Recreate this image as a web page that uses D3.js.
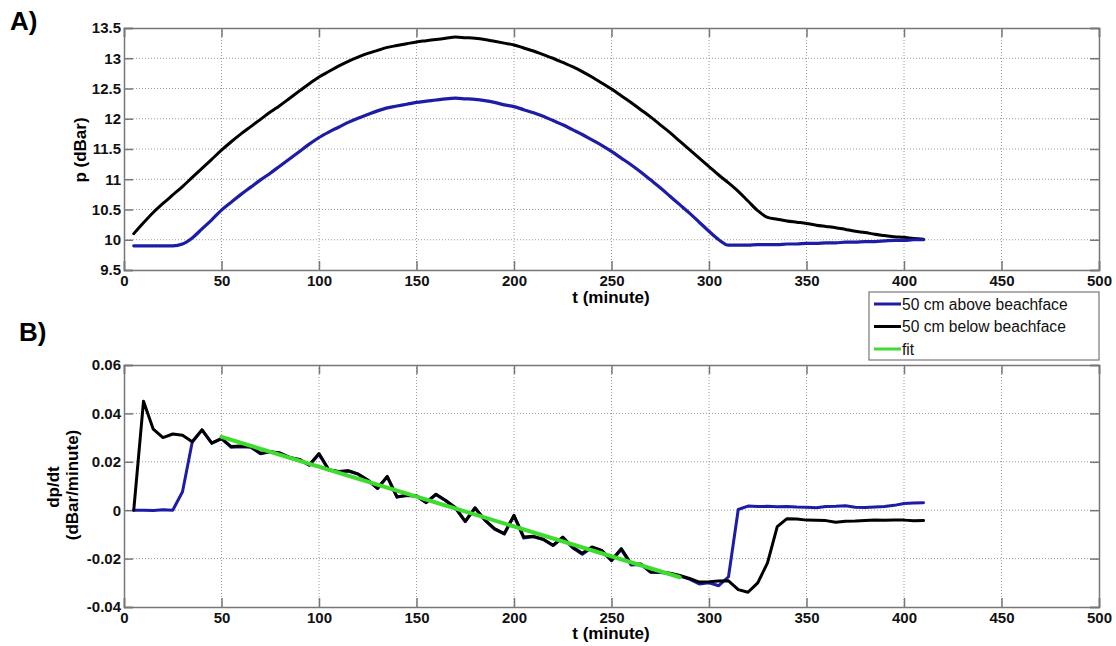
<!DOCTYPE html>
<html>
<head>
<meta charset="utf-8">
<script src="https://d3js.org/d3.v7.min.js"></script>
<style>
  body { margin: 0; background: #fff; }
  text { font-family: "Liberation Sans", Arial, sans-serif; }
</style>
</head>
<body>
<svg id="chart" width="1116" height="646"></svg>
<script>
// time grid (minutes), shared by both panels
var tMin = d3.range(5, 411, 5);

// panel A: pressure (dBar)
var pAbove = [9.90, 9.90, 9.90, 9.90, 9.90, 9.93, 10.03, 10.18, 10.33, 10.49,
  10.62, 10.75, 10.87, 10.99, 11.10, 11.22, 11.34, 11.46, 11.58, 11.69,
  11.78, 11.86, 11.94, 12.01, 12.07, 12.13, 12.18, 12.21, 12.24, 12.27,
  12.29, 12.31, 12.33, 12.34, 12.33, 12.32, 12.30, 12.27, 12.23, 12.20,
  12.15, 12.10, 12.04, 11.97, 11.90, 11.82, 11.74, 11.65, 11.56, 11.46,
  11.35, 11.24, 11.12, 10.99, 10.86, 10.72, 10.58, 10.44, 10.29, 10.14,
  10.00, 9.91, 9.91, 9.91, 9.92, 9.92, 9.92, 9.93, 9.93, 9.94,
  9.94, 9.95, 9.95, 9.96, 9.96, 9.97, 9.97, 9.98, 9.99, 9.99,
  10.00, 10.00];
var pBelow = [10.10, 10.28, 10.45, 10.60, 10.74, 10.88, 11.03, 11.18, 11.33, 11.48,
  11.62, 11.75, 11.87, 11.99, 12.11, 12.22, 12.34, 12.46, 12.58, 12.69,
  12.78, 12.87, 12.95, 13.02, 13.08, 13.13, 13.18, 13.21, 13.24, 13.27,
  13.29, 13.31, 13.33, 13.35, 13.34, 13.33, 13.31, 13.28, 13.25, 13.22,
  13.17, 13.12, 13.06, 13.00, 12.93, 12.86, 12.78, 12.69, 12.59, 12.49,
  12.38, 12.27, 12.15, 12.03, 11.90, 11.77, 11.63, 11.49, 11.35, 11.21,
  11.07, 10.94, 10.80, 10.64, 10.48, 10.37, 10.34, 10.31, 10.29, 10.27,
  10.24, 10.22, 10.20, 10.17, 10.14, 10.12, 10.09, 10.07, 10.05, 10.04,
  10.02, 10.01];

// panel B: dp/dt (dBar/minute)
var rAbove = [0, 0, -0.0001, 0.0002, 0, 0.0076, 0.0282, 0.0332, 0.0277, 0.0296,
  0.0260, 0.0262, 0.0260, 0.0233, 0.0241, 0.0236, 0.0217, 0.0209, 0.0186, 0.0231,
  0.0166, 0.0159, 0.0162, 0.0149, 0.0124, 0.0090, 0.0138, 0.0054, 0.0061, 0.0058,
  0.0031, 0.0064, 0.0039, 0.0009, -0.0047, 0.0009, -0.0041, -0.0078, -0.0098, -0.0023,
  -0.0115, -0.0110, -0.0121, -0.0146, -0.0113, -0.0155, -0.0182, -0.0154, -0.0168, -0.0209,
  -0.0162, -0.0226, -0.0224, -0.0256, -0.0257, -0.0262, -0.0272, -0.0285, -0.0305, -0.0300,
  -0.0312, -0.0275, 0.0003, 0.0017, 0.0015, 0.0016, 0.0014, 0.0015, 0.0013, 0.0012,
  0.0010, 0.0015, 0.0016, 0.0018, 0.0012, 0.0011, 0.0013, 0.0015, 0.0020, 0.0028,
  0.0030, 0.0031];
var rBelow = [0, 0.0450, 0.0335, 0.0300, 0.0315, 0.0310, 0.0283, 0.0332, 0.0277, 0.0296,
  0.0263, 0.0265, 0.0262, 0.0235, 0.0242, 0.0236, 0.0218, 0.0210, 0.0187, 0.0234,
  0.0167, 0.0160, 0.0163, 0.0150, 0.0125, 0.0090, 0.0140, 0.0055, 0.0062, 0.0060,
  0.0032, 0.0066, 0.0040, 0.0010, -0.0046, 0.0010, -0.0040, -0.0076, -0.0097, -0.0021,
  -0.0111, -0.0108, -0.0120, -0.0145, -0.0111, -0.0152, -0.0178, -0.0152, -0.0166, -0.0207,
  -0.0159, -0.0221, -0.0222, -0.0255, -0.0255, -0.0260, -0.0270, -0.0282, -0.0297, -0.0296,
  -0.0293, -0.0292, -0.0328, -0.0339, -0.0300, -0.0218, -0.0068, -0.0035, -0.0036, -0.0041,
  -0.0042, -0.0043, -0.0050, -0.0046, -0.0045, -0.0043, -0.0041, -0.0042, -0.0040, -0.0041,
  -0.0044, -0.0043];

// linear fit (end points)
var fitT = [50, 285];
var fitR = [0.0303, -0.0277];

var xTicks = [0, 50, 100, 150, 200, 250, 300, 350, 400, 450, 500];
var pTicks = [9.5, 10, 10.5, 11, 11.5, 12, 12.5, 13, 13.5];
var rTicks = [-0.04, -0.02, 0, 0.02, 0.04, 0.06];
var legendNames = ["50 cm above beachface", "50 cm below beachface", "fit"];

var blue = "#1c1ca6", black = "#000", green = "#3ddc2e";

var svg = d3.select("#chart");

function panel(yDomain, yRange, yTicks, yFmt) {
  var x = d3.scaleLinear().domain([0, 500]).range([124, 1099]);
  var y = d3.scaleLinear().domain(yDomain).range(yRange);
  var g = svg.append("g");
  var top = yRange[1], bot = yRange[0];

  // dotted grid
  g.selectAll(".gx").data(xTicks.slice(1, -1)).enter().append("line")
    .attr("x1", d => x(d)).attr("x2", d => x(d)).attr("y1", top).attr("y2", bot)
    .attr("stroke", "#9a9a9a").attr("stroke-width", 1).attr("stroke-dasharray", "1,2");
  g.selectAll(".gy").data(yTicks.slice(1, -1)).enter().append("line")
    .attr("x1", 124).attr("x2", 1099).attr("y1", d => y(d)).attr("y2", d => y(d))
    .attr("stroke", "#9a9a9a").attr("stroke-width", 1).attr("stroke-dasharray", "1,2");

  // axes with inward ticks (box style)
  var ax = [
    [d3.axisBottom(x).tickValues(xTicks).tickSize(-9).tickPadding(5), "translate(0," + bot + ")"],
    [d3.axisTop(x).tickValues(xTicks).tickSize(-9).tickFormat(""), "translate(0," + top + ")"],
    [d3.axisLeft(y).tickValues(yTicks).tickSize(-9).tickPadding(3).tickFormat(yFmt), "translate(124,0)"],
    [d3.axisRight(y).tickValues(yTicks).tickSize(-9).tickFormat(""), "translate(1099,0)"]
  ];
  ax.forEach(function(a) {
    var s = g.append("g").attr("transform", a[1]).call(a[0]);
    s.select(".domain").attr("stroke", "#777").attr("stroke-width", 1.5);
    s.selectAll(".tick line").attr("stroke", "#777").attr("stroke-width", 1.5);
    s.selectAll(".tick text").attr("font-size", 15).attr("font-weight", "bold")
      .attr("fill", "#111").attr("font-family", "Liberation Sans, Arial, sans-serif");
  });
  return { x: x, y: y, g: g };
}

function drawLine(p, xs, ys, color, w, curve) {
  var line = d3.line().curve(curve || d3.curveLinear)
    .x(d => p.x(d[0])).y(d => p.y(d[1]));
  p.g.append("path").datum(d3.zip(xs, ys)).attr("d", line)
    .attr("fill", "none").attr("stroke", color).attr("stroke-width", w)
    .attr("stroke-linejoin", "round").attr("stroke-linecap", "round");
}

// Panel A
var A = panel([9.5, 13.5], [270, 28], pTicks, d3.format(""));
drawLine(A, tMin, pBelow, black, 3, d3.curveMonotoneX);
drawLine(A, tMin, pAbove, blue, 3.2, d3.curveMonotoneX);

// Panel B
var B = panel([-0.04, 0.06], [607, 365], rTicks,
  d => d === 0 ? "0" : d3.format(".2f")(d).replace("\u2212", "-"));
drawLine(B, tMin, rAbove, blue, 3);
drawLine(B, tMin, rBelow, black, 3);
drawLine(B, fitT, fitR, green, 4);

// axis labels
[303, 639].forEach(function(yy) {
  svg.append("text").attr("x", 611).attr("y", yy).attr("text-anchor", "middle")
    .attr("font-size", 17).attr("font-weight", "bold").text("t (minute)");
});
svg.append("text").attr("transform", "translate(86,150) rotate(-90)")
  .attr("text-anchor", "middle").attr("font-size", 17).attr("font-weight", "bold").text("p (dBar)");
svg.append("text").attr("transform", "translate(59,487) rotate(-90)")
  .attr("text-anchor", "middle").attr("font-size", 17).attr("font-weight", "bold").text("dp/dt");
svg.append("text").attr("transform", "translate(78,485) rotate(-90)")
  .attr("text-anchor", "middle").attr("font-size", 17).attr("font-weight", "bold").text("(dBar/minute)");

// panel letters
svg.append("text").attr("x", 10).attr("y", 30).attr("font-size", 26).attr("font-weight", "bold")
  .attr("font-family", "Open Sans, sans-serif").text("A)");
svg.append("text").attr("x", 19).attr("y", 341).attr("font-size", 26).attr("font-weight", "bold")
  .attr("font-family", "Open Sans, sans-serif").text("B)");

// legend
var lg = svg.append("g");
lg.append("rect").attr("x", 869).attr("y", 292).attr("width", 230).attr("height", 68)
  .attr("fill", "#fff").attr("stroke", "#777").attr("stroke-width", 1.2);
var lgColors = [blue, black, green];
legendNames.forEach(function(name, i) {
  var yy = 304 + i * 22.5;
  lg.append("line").attr("x1", 874).attr("x2", 901).attr("y1", yy).attr("y2", yy)
    .attr("stroke", lgColors[i]).attr("stroke-width", 3);
  lg.append("text").attr("x", 902).attr("y", yy + 5.5).attr("font-size", 15.6).attr("fill", "#111").text(name);
});
</script>
</body>
</html>
